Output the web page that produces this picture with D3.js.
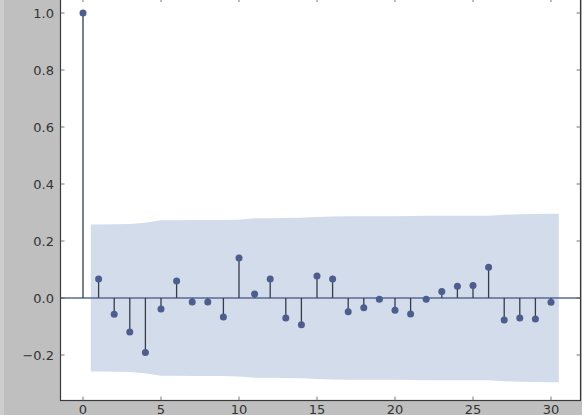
<!DOCTYPE html>
<html><head><meta charset="utf-8">
<script src="https://cdn.jsdelivr.net/npm/d3@7"></script>
<style>body{margin:0;background:#bfbfbf;}svg{display:block;}</style>
</head><body>
<script>
const lags = d3.range(0, 31);
const acfValues = [1.0, 0.067, -0.057, -0.119, -0.191, -0.039, 0.060, -0.014, -0.014, -0.067,
  0.140, 0.014, 0.067, -0.070, -0.094, 0.077, 0.067, -0.048, -0.034, -0.004,
  -0.043, -0.056, -0.004, 0.023, 0.041, 0.044, 0.108, -0.077, -0.070, -0.074, -0.015];
// confidence band half-width at lags 1..30
const bandValues = [0.258, 0.259, 0.260, 0.264, 0.273, 0.273, 0.274, 0.274, 0.274, 0.275,
  0.280, 0.280, 0.281, 0.282, 0.284, 0.286, 0.287, 0.287, 0.287, 0.287,
  0.288, 0.289, 0.289, 0.289, 0.289, 0.289, 0.292, 0.294, 0.295, 0.296];
const xTicks = [0, 5, 10, 15, 20, 25, 30];
const yTicks = [-0.2, 0.0, 0.2, 0.4, 0.6, 0.8, 1.0];

const W = 582, H = 415;
const L = 60.5, R = 580.5, T = -2, B = 400.5;
const svg = d3.select("body").append("svg").attr("width", W).attr("height", H);
svg.append("rect").attr("width", W).attr("height", H).attr("fill", "#bfbfbf");
svg.append("rect").attr("x", 0).attr("y", 0).attr("width", 4).attr("height", H).attr("fill", "#cdcdcd");

const x = d3.scaleLinear().domain([0, 30]).range([83, 551]);
const y = d3.scaleLinear().domain([0, 1]).range([298, 13]);

svg.append("rect").attr("x", L).attr("y", T).attr("width", R - L).attr("height", B - T).attr("fill", "#ffffff");

const blue = "#4c5d8e";
// band: from lag 0.5 to 30.5
const bandData = [{lag: 0.5, v: bandValues[0]}]
  .concat(bandValues.map((v, i) => ({lag: i + 1, v})))
  .concat([{lag: 30.5, v: bandValues[29]}]);
const area = d3.area().x(d => x(d.lag)).y0(d => y(-d.v)).y1(d => y(d.v));
svg.append("path").datum(bandData).attr("d", area).attr("fill", "#4c72b0").attr("fill-opacity", 0.25);

// zero line
svg.append("line").attr("x1", L).attr("x2", R).attr("y1", y(0)).attr("y2", y(0))
  .attr("stroke", "#5a6a94").attr("stroke-width", 1.3);

// stems
svg.selectAll(".stem").data(lags).enter().append("line")
  .attr("x1", d => x(d)).attr("x2", d => x(d))
  .attr("y1", y(0)).attr("y2", d => y(acfValues[d]))
  .attr("stroke", "#353c4c").attr("stroke-width", 1.3);
// markers
svg.selectAll(".dot").data(lags).enter().append("circle")
  .attr("cx", d => x(d)).attr("cy", d => y(acfValues[d])).attr("r", 3.5)
  .attr("fill", blue);

// spines
const sp = svg.append("g").attr("stroke", "#3a3a3a").attr("stroke-width", 1.2).attr("fill", "none");
sp.append("rect").attr("x", L).attr("y", T).attr("width", R - L).attr("height", B - T);

// ticks (inward)
const tk = svg.append("g").attr("stroke", "#555").attr("stroke-width", 0.8);
xTicks.forEach(t => {
  tk.append("line").attr("x1", x(t)).attr("x2", x(t)).attr("y1", B).attr("y2", B - 4);
  tk.append("line").attr("x1", x(t)).attr("x2", x(t)).attr("y1", T).attr("y2", T + 4);
});
yTicks.forEach(t => {
  tk.append("line").attr("x1", L).attr("x2", L + 4).attr("y1", y(t)).attr("y2", y(t));
  tk.append("line").attr("x1", R).attr("x2", R - 4).attr("y1", y(t)).attr("y2", y(t));
});

const fmt = d3.format(".1f");
svg.append("g").selectAll("text").data(yTicks).enter().append("text")
  .attr("x", 54).attr("y", d => y(d)).attr("dy", "0.36em").attr("text-anchor", "end")
  .attr("font-family", "DejaVu Sans").attr("font-size", 13).attr("fill", "#333")
  .text(d => fmt(d).replace("-", "\u2212"));
svg.append("g").selectAll("text").data(xTicks).enter().append("text")
  .attr("x", d => x(d)).attr("y", 413.5).attr("text-anchor", "middle")
  .attr("font-family", "DejaVu Sans").attr("font-size", 13).attr("fill", "#333")
  .text(d => d);
</script>
</body></html>
